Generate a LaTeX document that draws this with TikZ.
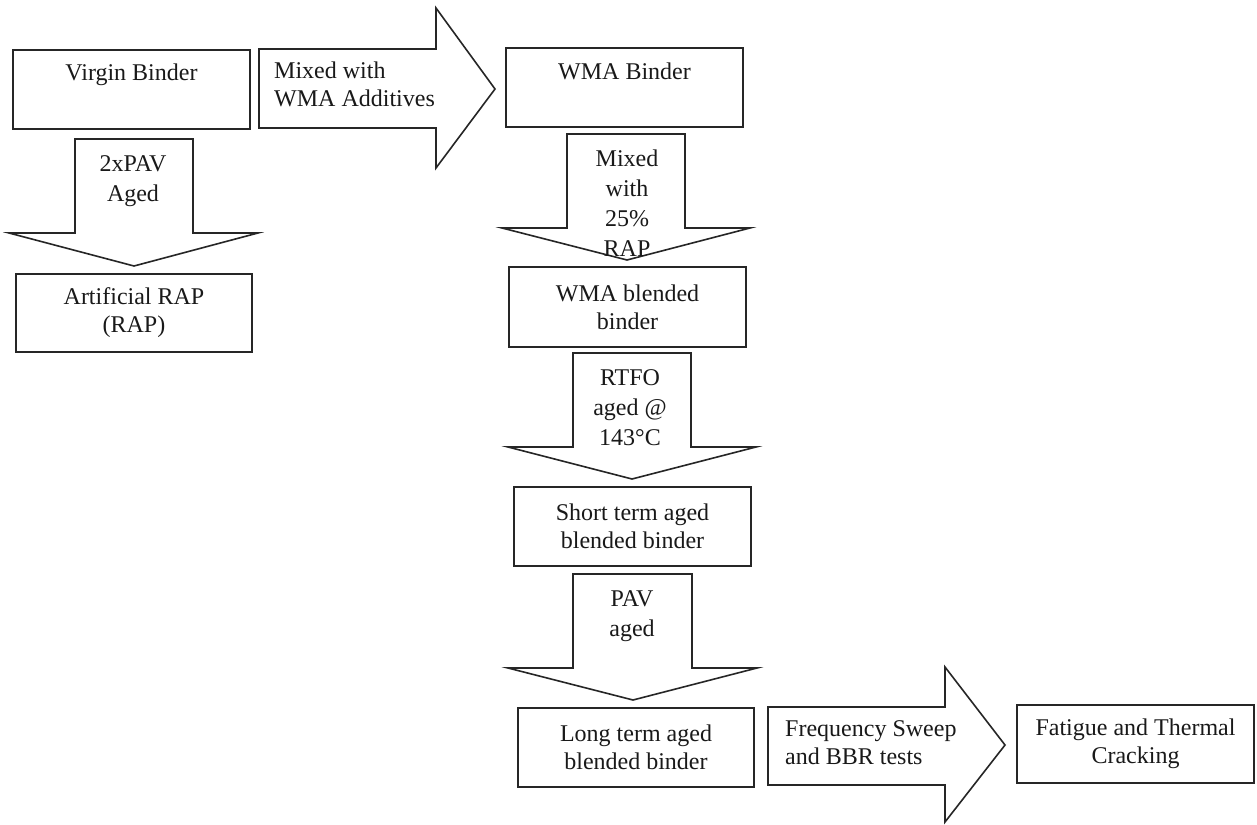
\documentclass[tikz,border=0pt]{standalone}
\usepackage{fontspec}
\setmainfont{Liberation Serif}
\begin{document}
\begin{tikzpicture}[x=1pt,y=-1pt,
  txt/.style={font=\fontsize{24}{28}\selectfont, inner sep=0pt, align=center, text=black!90},
  atxt/.style={font=\fontsize{24}{30}\selectfont, inner sep=0pt, align=center, text=black!90},
  box/.style={draw=black!85, line width=1.6pt, fill=white, inner sep=0pt, align=center,
              font=\fontsize{24}{28}\selectfont, text=black!90},
  blk/.style={draw=black!85, line width=1.6pt, fill=white, line join=miter}]
\useasboundingbox[fill=white] (0,0) rectangle (1257,824);

% boxes
\node[box, minimum width=237pt, text height=31pt, text depth=48pt] (vb) at (131.5,89.5) {Virgin Binder};
\node[box, minimum width=236pt, minimum height=78pt] (rap) at (134,313) {Artificial RAP\\(RAP)};
\node[box, minimum width=237pt, text height=32pt, text depth=47pt] (wma) at (624.5,87.5) {WMA Binder};
\node[box, minimum width=237pt, minimum height=80pt] (wbb) at (627.5,307) {WMA blended\\binder};
\node[box, minimum width=237pt, minimum height=79pt] (st) at (632.5,526.5) {Short term aged\\blended binder};
\node[box, minimum width=236pt, minimum height=79pt] (lt) at (636,747.5) {Long term aged\\blended binder};
\node[box, minimum width=237pt, minimum height=78pt] (ft) at (1135.5,744) {Fatigue and Thermal\\Cracking};

% block arrows
\draw[blk] (259,49) -- (436,49) -- (436,8) -- (495,89) -- (436,168) -- (436,128) -- (259,128) -- cycle;
\draw[blk] (75,139) -- (193,139) -- (193,233) -- (258,233) -- (134,266) -- (9,233) -- (75,233) -- cycle;
\draw[blk] (567,134) -- (685,134) -- (685,228) -- (750,228) -- (627,260) -- (502,228) -- (567,228) -- cycle;
\draw[blk] (573,353) -- (691,353) -- (691,447) -- (756,447) -- (632,479) -- (508,447) -- (573,447) -- cycle;
\draw[blk] (573,574) -- (692,574) -- (692,668) -- (757,668) -- (633,700) -- (508,668) -- (573,668) -- cycle;
\draw[blk] (768,707) -- (945,707) -- (945,667) -- (1005,745) -- (945,822) -- (945,785) -- (768,785) -- cycle;

% arrow labels
\node[txt, anchor=west, align=left] (a1) at (274,84.8) {Mixed with\\WMA Additives};
\node[atxt] (a2) at (133,181.5) {2xPAV\\Aged};
\node[atxt] (a3) at (627,202.8) {Mixed\\with\\25\%\\RAP};
\node[atxt] (a4) at (630,408) {RTFO\\aged @\\143°C};
\node[atxt] (a5) at (632,616.2) {PAV\\aged};
\node[txt, anchor=west, align=left] (a6) at (785,743) {Frequency Sweep\\and BBR tests};
\end{tikzpicture}
\end{document}
